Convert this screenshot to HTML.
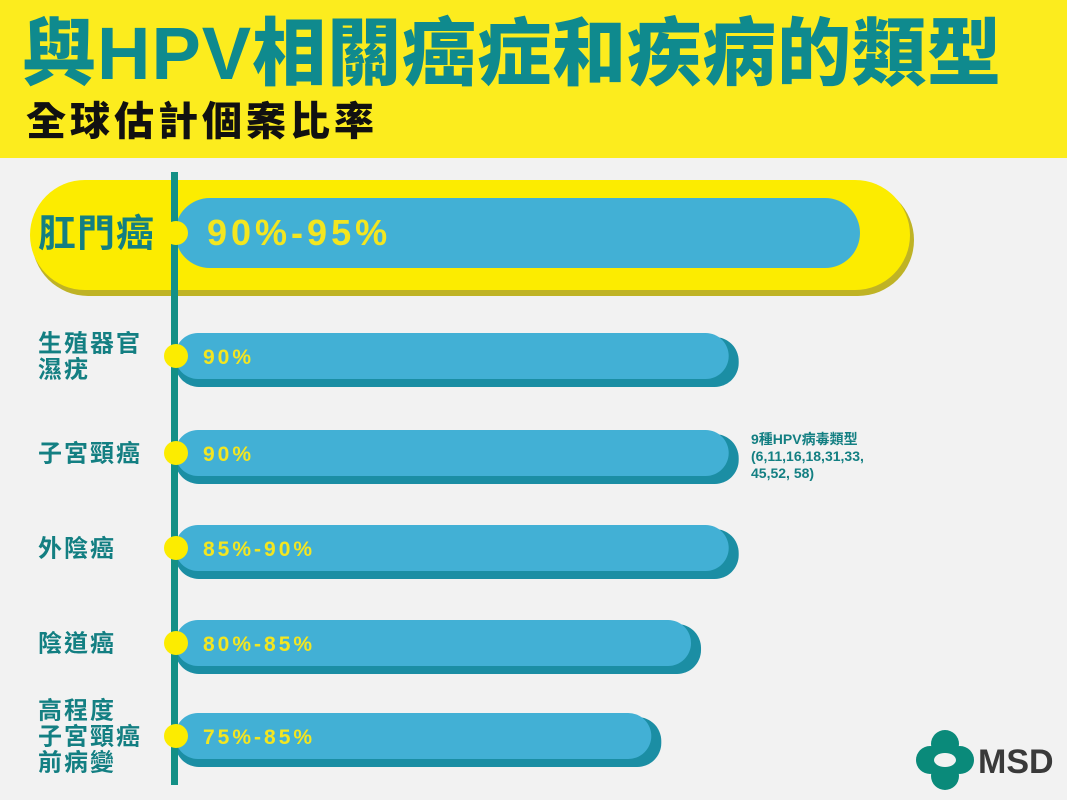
<!DOCTYPE html>
<html><head><meta charset="utf-8">
<style>
html,body{margin:0;padding:0}
body{width:1067px;height:800px;overflow:hidden;background:#f2f2f2;position:relative;font-family:"Liberation Sans","Noto Sans CJK TC",sans-serif}
#hdr{position:absolute;left:0;top:0;width:1067px;height:158px;background:#fcec1e}
#title{position:absolute;left:22px;top:10px;font-size:74px;font-weight:900;color:#0f8a8e;letter-spacing:1px;white-space:nowrap;line-height:88px}
#sub{position:absolute;left:26px;top:98px;font-size:40px;font-weight:900;color:#111;white-space:nowrap;line-height:48px;letter-spacing:4px}
</style></head><body>
<div id="hdr"></div>
<div id="title">與HPV相關癌症和疾病的類型</div>
<div id="sub">全球估計個案比率</div>
<svg id="chart" width="1067" height="800" style="position:absolute;left:0;top:0"></svg>
<script>
const categories=["肛門癌","生殖器官\n濕疣","子宮頸癌","外陰癌","陰道癌","高程度\n子宮頸癌\n前病變"];
const valueLabels=["90%-95%","90%","90%","85%-90%","80%-85%","75%-85%"];
const values=[100,82,82,82,76.5,70.7];
const NS="http://www.w3.org/2000/svg";
const svg=document.getElementById('chart');
const x0=175;
function xs(v){return x0+v*6.85;}
const rows=[{t:198,h:70},{t:333,h:52},{t:430,h:52},{t:525,h:52},{t:620,h:52},{t:713,h:52}];
function mk(tag,attrs){const e=document.createElementNS(NS,tag);for(const k in attrs)e.setAttribute(k,attrs[k]);svg.appendChild(e);return e;}
let hs=mk('rect',{x:32,y:184,width:882,height:112,rx:56,fill:'#bfb325'});


let hl=mk('rect',{x:30,y:180,width:880,height:110,rx:55,fill:'#fcec00'});


values.forEach((v,i)=>{
  const r=rows[i];const xe=xs(v);
  if(i>0){
    let s=mk('rect',{x:x0,y:r.t+4,width:xe-x0+2,height:r.h-2,rx:r.h/2-2,fill:'#1b8ea4'});
    
    
  }
  let b=mk('rect',{x:x0,y:r.t,width:xe-x0-(i>0?8:0),height:r.h-(i>0?6:0),rx:(r.h-(i>0?6:0))/2,fill:'#42b0d5'});
  
  
  let t=mk('text',{x:i==0?207:203,y:r.t+(r.h-(i>0?6:0))/2+(i==0?12:8),fill:'#f3e620','font-size':i==0?36:21,'font-weight':'bold','letter-spacing':i==0?4:3,'font-family':'"Liberation Sans",sans-serif'});
  t.textContent=valueLabels[i];
  
  
  const lines=categories[i].split('\n');
  const fs=i==0?38:24,lh=i==0?36:26;
  const cy=r.t+(r.h-(i>0?6:0))/2;
  lines.forEach((ln,j)=>{
    let c=mk('text',{x:38,y:cy+(j-(lines.length-1)/2)*lh+fs*0.36,fill:'#137f82','font-size':fs,'font-weight':'bold','letter-spacing':i==0?1:2,'font-family':'"Liberation Sans","Noto Sans CJK TC",sans-serif'});
    c.textContent=ln;
    
    
  });
});
let ax=mk('rect',{x:171,y:172,width:7,height:613,fill:'#139086'});


rows.forEach((r,i)=>{
  const cy=r.t+(r.h-(i>0?6:0))/2;
  let d=mk('circle',{cx:176,cy:cy,r:12,fill:'#fcec00'});
  
  
});
["9種HPV病毒類型","(6,11,16,18,31,33,","45,52, 58)"].forEach((s,j)=>{
  let a=mk('text',{x:751,y:444+j*17,fill:'#137f82','font-size':14,'font-weight':'bold','font-family':'"Liberation Sans","Noto Sans CJK TC",sans-serif'});
  a.textContent=s;
  
  
});
const g=document.createElementNS(NS,'g');svg.appendChild(g);


g.innerHTML='<circle cx="945" cy="744" r="14" fill="#0a8a7a"/><circle cx="945" cy="776" r="14" fill="#0a8a7a"/><circle cx="930" cy="760" r="14" fill="#0a8a7a"/><circle cx="960" cy="760" r="14" fill="#0a8a7a"/><ellipse cx="945" cy="760" rx="11" ry="7" fill="#f2f2f2"/><text x="978" y="773" font-size="34" font-weight="bold" fill="#3a3a3a" font-family="Liberation Sans,sans-serif">MSD</text>';
</script>
</body></html>
